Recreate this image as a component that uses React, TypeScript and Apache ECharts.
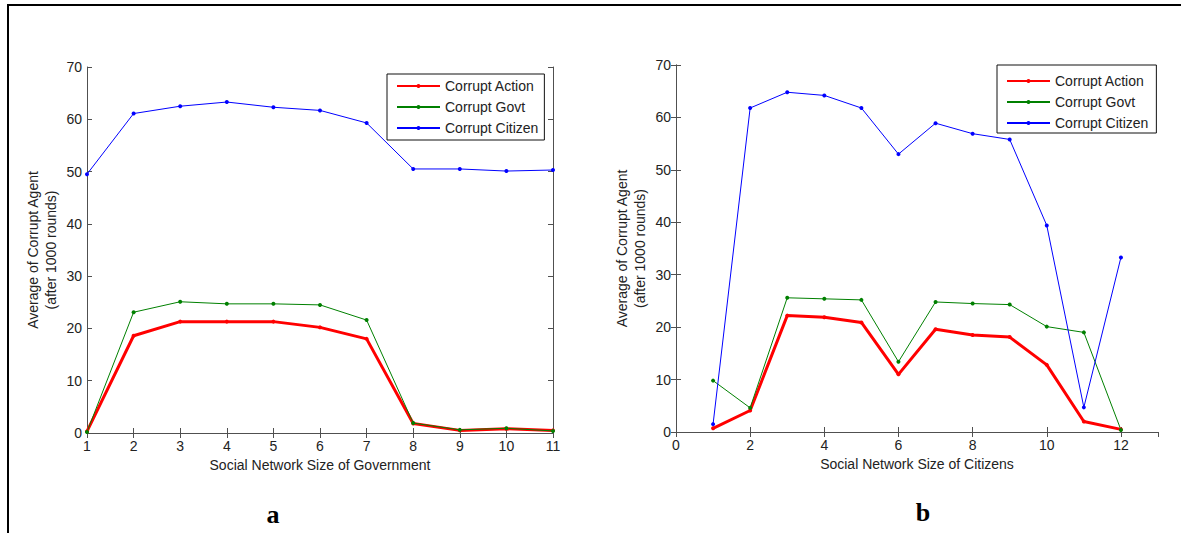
import React, { useEffect, useRef } from "react";
import * as echarts from "echarts";

// ---- data ----
const xGov = [1, 2, 3, 4, 5, 6, 7, 8, 9, 10, 11];
const actionGov = [0.3, 18.6, 21.3, 21.3, 21.3, 20.2, 18.0, 1.8, 0.5, 0.8, 0.5];
const govtGov = [0.2, 23.1, 25.1, 24.7, 24.7, 24.5, 21.6, 1.9, 0.6, 0.9, 0.4];
const citizenGov = [49.5, 61.1, 62.5, 63.3, 62.3, 61.7, 59.3, 50.5, 50.5, 50.1, 50.3];

const xCit = [1, 2, 3, 4, 5, 6, 7, 8, 9, 10, 11, 12];
const actionCit = [0.7, 4.1, 22.2, 21.9, 20.9, 11.0, 19.6, 18.5, 18.1, 12.8, 2.0, 0.5];
const govtCit = [9.8, 4.6, 25.6, 25.4, 25.2, 13.4, 24.8, 24.5, 24.3, 20.1, 19.0, 0.4];
const citizenCit = [1.5, 61.8, 64.8, 64.2, 61.8, 53.0, 58.9, 56.9, 55.8, 39.4, 4.7, 33.3];

const seriesNames = ["Corrupt Action", "Corrupt Govt", "Corrupt Citizen"];
const seriesColors = ["#ff0000", "#008000", "#0000ff"];
const seriesWidths = [3, 1, 1];

const yTitle = "Average of Corrupt Agent\n(after 1000 rounds)";
const xTitleGov = "Social Network Size of Government";
const xTitleCit = "Social Network Size of Citizens";
const panelLabels = ["a", "b"];

const FONT = '"Liberation Sans", Arial, sans-serif';
const AXIS_COLOR = "#505050";
const TEXT_COLOR = "#222";

function pairs(xs: number[], ys: number[]) {
  return xs.map((x, i) => [x, ys[i]]);
}

export default function App() {
  const ref = useRef<HTMLDivElement>(null);

  useEffect(() => {
    if (!ref.current) return;
    const chart = echarts.init(ref.current, undefined, { renderer: "svg" });

    const baseAxisLine = { show: true, lineStyle: { color: AXIS_COLOR, width: 1 } };
    const baseTick = { show: true, inside: true, length: 5, lineStyle: { color: AXIS_COLOR } };
    const labelStyle = { color: TEXT_COLOR, fontSize: 14, fontFamily: FONT };

    const mkX = (grid: number, min: number, max: number, interval: number, name: string, top: boolean) => ({
      type: "value",
      gridIndex: grid,
      position: top ? "top" : "bottom",
      min,
      max,
      interval,
      axisLine: baseAxisLine,
      axisTick: baseTick,
      splitLine: { show: false },
      axisLabel: top ? { show: false } : { ...labelStyle, margin: 6, showMaxLabel: grid === 0 },
      name: top ? "" : name,
      nameLocation: "middle",
      nameGap: 23,
      nameTextStyle: { ...labelStyle },
    });

    const mkY = (grid: number, right: boolean) => ({
      type: "value",
      gridIndex: grid,
      position: right ? "right" : "left",
      min: 0,
      max: 70,
      interval: 10,
      axisLine: baseAxisLine,
      axisTick: baseTick,
      splitLine: { show: false },
      axisLabel: right ? { show: false } : { ...labelStyle, margin: 5 },
      name: right ? "" : yTitle,
      nameLocation: "middle",
      nameGap: 27,
      nameTextStyle: { ...labelStyle, lineHeight: 18 },
    });

    const mkSeries = (xs: number[], data: number[][], axisIdx: number) =>
      data.map((ys, i) => ({
        type: "line",
        name: seriesNames[i],
        xAxisIndex: axisIdx,
        yAxisIndex: axisIdx,
        data: pairs(xs, ys),
        symbol: "circle",
        symbolSize: 4,
        showSymbol: true,
        color: seriesColors[i],
        lineStyle: { color: seriesColors[i], width: seriesWidths[i] },
        itemStyle: { color: seriesColors[i] },
        emphasis: { disabled: true },
      }));

    const mkLegend = (left: number, top: number, padding: number[]) => ({
      show: true,
      orient: "vertical",
      left,
      top,
      data: seriesNames,
      itemWidth: 43,
      itemHeight: 5,
      itemGap: 7,
      padding,
      borderColor: "#111",
      borderWidth: 1,
      backgroundColor: "#fff",
      selectedMode: false,
      textStyle: { color: TEXT_COLOR, fontSize: 14, fontFamily: FONT },
    });

    chart.setOption({
      animation: false,
      backgroundColor: "#fff",
      grid: [
        { left: 87, right: 1181 - 553, top: 67, bottom: 533 - 433, show: false },
        { left: 676, right: 1181 - 1158, top: 65, bottom: 533 - 432, show: false },
      ],
      xAxis: [
        mkX(0, 1, 11, 1, xTitleGov, false),
        mkX(0, 1, 11, 1, "", true),
        mkX(1, 0, 13, 2, xTitleCit, false),
        mkX(1, 0, 13, 2, "", true),
      ],
      yAxis: [mkY(0, false), mkY(0, true), mkY(1, false), mkY(1, true)],
      legend: [mkLegend(387, 74, [5, 6, 5, 9]), mkLegend(997, 65, [9, 8, 3, 9])],
      series: [
        ...mkSeries(xGov, [actionGov, govtGov, citizenGov], 0),
        ...mkSeries(xCit, [actionCit, govtCit, citizenCit], 2),
      ],
      graphic: [
        { type: "line", shape: { x1: 7, y1: 5, x2: 1181, y2: 5 }, style: { stroke: "#000", lineWidth: 2 } },
        { type: "line", shape: { x1: 8, y1: 5, x2: 8, y2: 533 }, style: { stroke: "#000", lineWidth: 2 } },
        {
          type: "text",
          x: 273,
          y: 514,
          style: {
            text: panelLabels[0],
            font: 'bold 26px "Liberation Serif", "Times New Roman", serif',
            fill: "#000",
            textAlign: "center",
            textVerticalAlign: "middle",
          },
        },
        {
          type: "text",
          x: 923,
          y: 512,
          style: {
            text: panelLabels[1],
            font: 'bold 26px "Liberation Serif", "Times New Roman", serif',
            fill: "#000",
            textAlign: "center",
            textVerticalAlign: "middle",
          },
        },
      ],
    });

    return () => chart.dispose();
  }, []);

  return (
    <div
      ref={ref}
      style={{ position: "absolute", left: 0, top: 0, width: 1181, height: 533, background: "#fff" }}
    />
  );
}
